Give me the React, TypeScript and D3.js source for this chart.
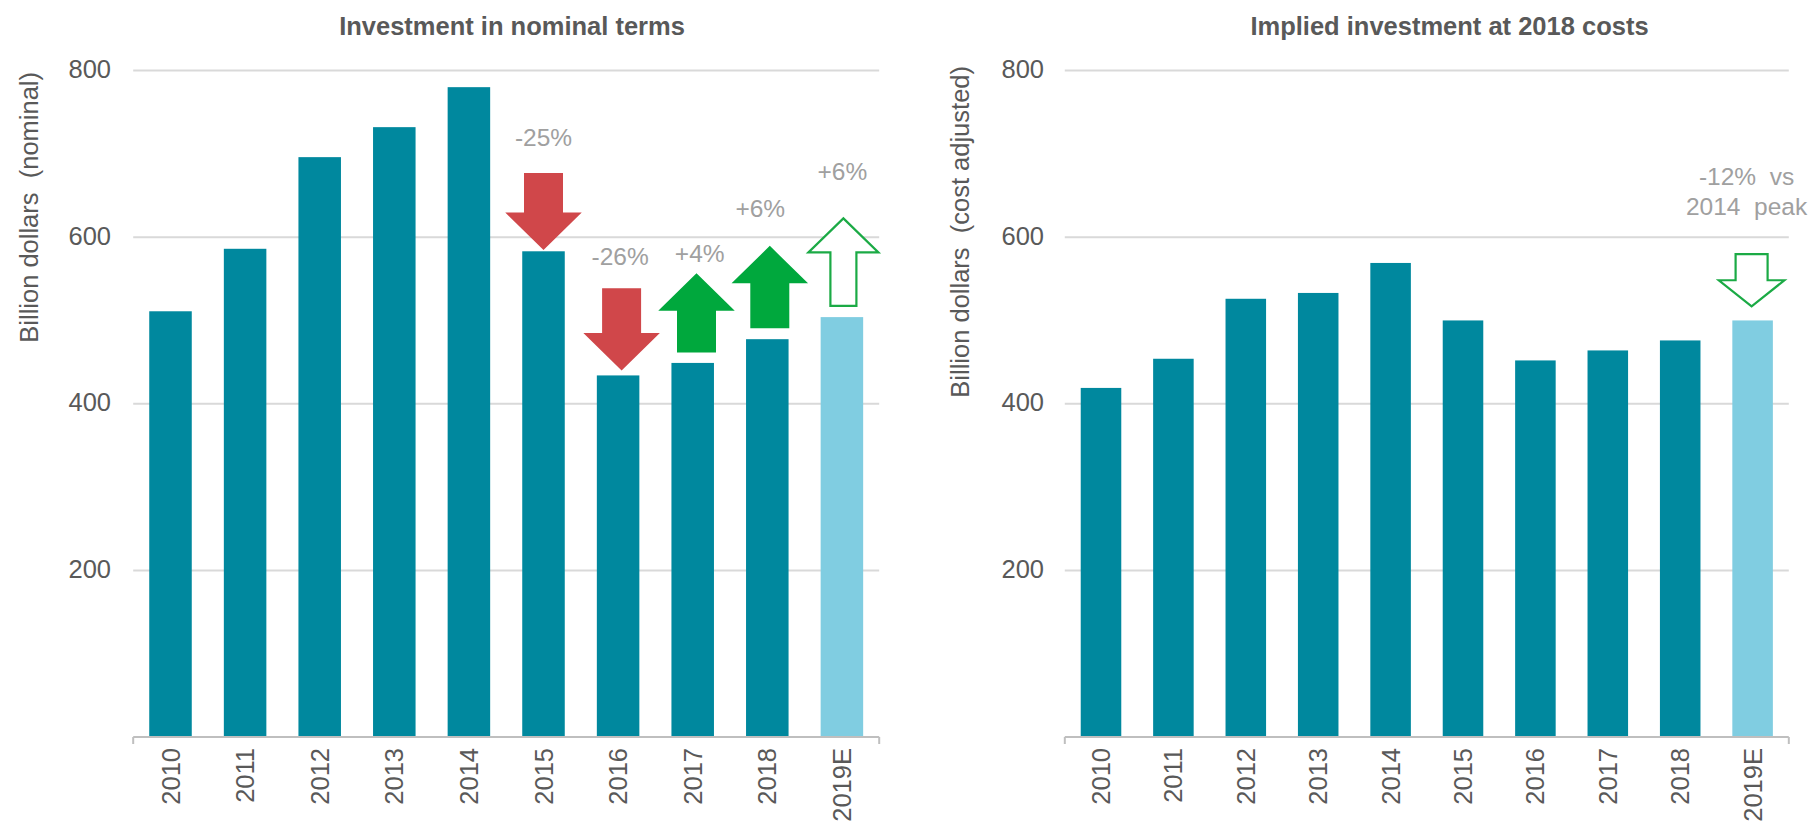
import React from "react";
import * as d3 from "d3";

// ---------- data ----------
const categories = ["2010", "2011", "2012", "2013", "2014", "2015", "2016", "2017", "2018", "2019E"];
const nominalValues = [511, 586, 696, 732, 780, 583, 434, 449, 477.5, 504];
const costAdjustedValues = [419, 454, 526, 533, 569, 500, 452, 464, 476, 500];
const yTicks = [200, 400, 600, 800];
const estimateCategory = "2019E";

const leftTitle = "Investment in nominal terms";
const rightTitle = "Implied investment at 2018 costs";
const leftYLabel = "Billion dollars\u00a0\u00a0(nominal)";
const rightYLabel = "Billion dollars\u00a0\u00a0(cost adjusted)";

// arrow annotations: category, tail value, tip value, kind
const leftArrows = [
  { cat: "2015", from: 677, to: 584.5, kind: "red" },
  { cat: "2016", from: 538.5, to: 440, kind: "red" },
  { cat: "2017", from: 461.5, to: 556.5, kind: "green" },
  { cat: "2018", from: 490.5, to: 589.5, kind: "green" },
  { cat: "2019E", from: 517.5, to: 622.5, kind: "outline" },
];
const rightArrows = [{ cat: "2019E", from: 579.5, to: 517, kind: "outline" }];

// annotation labels: category, baseline value, lines
const leftLabels = [
  { cat: "2015", at: 709.3, lines: ["-25%"] },
  { cat: "2016", at: 566.4, lines: ["-26%"] },
  { cat: "2017", at: 570.3, lines: ["+4%"] },
  { cat: "2018", at: 624.4, lines: ["+6%"] },
  { cat: "2019E", at: 668.5, lines: ["+6%"] },
];
const rightLabels = [{ cat: "2019E", at: 662.5, lines: ["-12%\u00a0\u00a0vs", "2014\u00a0\u00a0peak"] }];

// ---------- layout / style ----------
const W = 1811;
const H = 823;
const FONT = "'Liberation Sans', Arial, Helvetica, sans-serif";
const TEAL = "#00889E";
const LIGHT = "#80CDE1";
const RED = "#D0474A";
const GREEN = "#00A83D";
const OUTLINE = "#1BAA45";
const AXIS_TEXT = "#595959";
const NOTE_TEXT = "#A0A0A0";
const GRID = "#D9D9D9";

const arrowGeom: Record<string, { head: number; headW: number; shaftW: number }> = {
  red: { head: 37.5, headW: 76.5, shaftW: 39 },
  green: { head: 37.5, headW: 76.5, shaftW: 39 },
  outline: { head: 34, headW: 70, shaftW: 26 },
};
const arrowGeomRight = { head: 26, headW: 65.5, shaftW: 32 };
const arrowDx: Record<string, number> = { "2016": 3.5, "2017": 3.8, "2018": 2.5, "2019E": 1.5 };
const labelDx: Record<string, number> = { "2016": 2, "2017": 7, "2018": -7, "2019E": 0.5 };

function arrowPath(cx: number, yTail: number, yTip: number, head: number, headW: number, shaftW: number) {
  const dir = yTip > yTail ? 1 : -1;
  const yHead = yTip - dir * head;
  const pts = [
    [cx - shaftW / 2, yTail],
    [cx + shaftW / 2, yTail],
    [cx + shaftW / 2, yHead],
    [cx + headW / 2, yHead],
    [cx, yTip],
    [cx - headW / 2, yHead],
    [cx - shaftW / 2, yHead],
  ];
  return "M" + pts.map((p) => p.join(",")).join("L") + "Z";
}

type PanelProps = {
  title: string;
  titleX: number;
  yLabel: string;
  yLabelX: number;
  yLabelEnd: number;
  tickRight: number;
  x0: number;
  x1: number;
  pad: number;
  values: number[];
  arrows: { cat: string; from: number; to: number; kind: string }[];
  labels: { cat: string; at: number; lines: string[] }[];
  right?: boolean;
};

function Panel(p: PanelProps) {
  const x = d3.scaleBand<string>().domain(categories).range([p.x0, p.x1]).paddingInner(p.pad).paddingOuter(p.pad / 2);
  const y = d3.scaleLinear().domain([0, 800]).range([737, 70.5]);
  const bw = x.bandwidth();
  const cx = (c: string) => (x(c) as number) + bw / 2;
  return (
    <g>
      <text x={p.titleX} y={35} textAnchor="middle" fontFamily={FONT} fontWeight="bold" fontSize={25.5} fill={AXIS_TEXT}>
        {p.title}
      </text>
      <text
        transform={`translate(${p.yLabelX},${p.yLabelEnd}) rotate(-90)`}
        textAnchor="end"
        fontFamily={FONT}
        fontSize={25.5}
        fill={AXIS_TEXT}
      >
        {p.yLabel}
      </text>
      {yTicks.map((t) => (
        <g key={t}>
          <line x1={p.x0} x2={p.x1} y1={y(t)} y2={y(t)} stroke={GRID} strokeWidth={2} />
          <text x={p.tickRight} y={y(t) + 7.5} textAnchor="end" fontFamily={FONT} fontSize={25.5} fill={AXIS_TEXT}>
            {t}
          </text>
        </g>
      ))}
      {categories.map((c, i) => (
        <rect
          key={c}
          x={x(c)}
          y={y(p.values[i])}
          width={bw}
          height={y(0) - y(p.values[i])}
          fill={c === estimateCategory ? LIGHT : TEAL}
        />
      ))}
      <line x1={p.x0} x2={p.x1} y1={y(0)} y2={y(0)} stroke="#BFBFBF" strokeWidth={2} />
      <line x1={p.x0} x2={p.x0} y1={y(0)} y2={y(0) + 7} stroke="#BFBFBF" strokeWidth={2} />
      <line x1={p.x1} x2={p.x1} y1={y(0)} y2={y(0) + 7} stroke="#BFBFBF" strokeWidth={2} />
      {categories.map((c) => (
        <text
          key={c}
          transform={`translate(${cx(c)},748) rotate(-90)`}
          textAnchor="end"
          dominantBaseline="central"
          fontFamily={FONT}
          fontSize={25.5}
          fill={AXIS_TEXT}
        >
          {c}
        </text>
      ))}
      {p.arrows.map((a) => {
        const g = p.right ? arrowGeomRight : arrowGeom[a.kind];
        const dx = p.right ? -1 : arrowDx[a.cat] || 0;
        const d = arrowPath(cx(a.cat) + dx, y(a.from), y(a.to), g.head, g.headW, g.shaftW);
        if (a.kind === "outline") {
          return <path key={a.cat} d={d} fill="#FFFFFF" stroke={OUTLINE} strokeWidth={2.2} strokeLinejoin="miter" />;
        }
        return <path key={a.cat} d={d} fill={a.kind === "red" ? RED : GREEN} />;
      })}
      {p.labels.map((l) => (
        <text
          key={l.cat}
          x={cx(l.cat) + (p.right ? -6 : labelDx[l.cat] || 0)}
          y={y(l.at)}
          textAnchor="middle"
          fontFamily={FONT}
          fontSize={24.5}
          fill={NOTE_TEXT}
        >
          {l.lines.map((s, k) => (
            <tspan key={k} x={cx(l.cat) + (p.right ? -6 : labelDx[l.cat] || 0)} dy={k === 0 ? 0 : 30}>
              {s}
            </tspan>
          ))}
        </text>
      ))}
    </g>
  );
}

export default function App() {
  return (
    <svg
      width={W}
      height={H}
      viewBox={`0 0 ${W} ${H}`}
      style={{ position: "absolute", left: 0, top: 0, display: "block", background: "#FFFFFF" }}
    >
      <rect x={0} y={0} width={W} height={H} fill="#FFFFFF" />
      <Panel
        title={leftTitle}
        titleX={512}
        yLabel={leftYLabel}
        yLabelX={38}
        yLabelEnd={72}
        tickRight={111}
        x0={133.2}
        x1={879.2}
        pad={0.43}
        values={nominalValues}
        arrows={leftArrows}
        labels={leftLabels}
      />
      <Panel
        title={rightTitle}
        titleX={1449.5}
        yLabel={rightYLabel}
        yLabelX={969}
        yLabelEnd={66}
        tickRight={1044}
        x0={1064.8}
        x1={1788.8}
        pad={0.44}
        values={costAdjustedValues}
        arrows={rightArrows}
        labels={rightLabels}
        right
      />
    </svg>
  );
}
